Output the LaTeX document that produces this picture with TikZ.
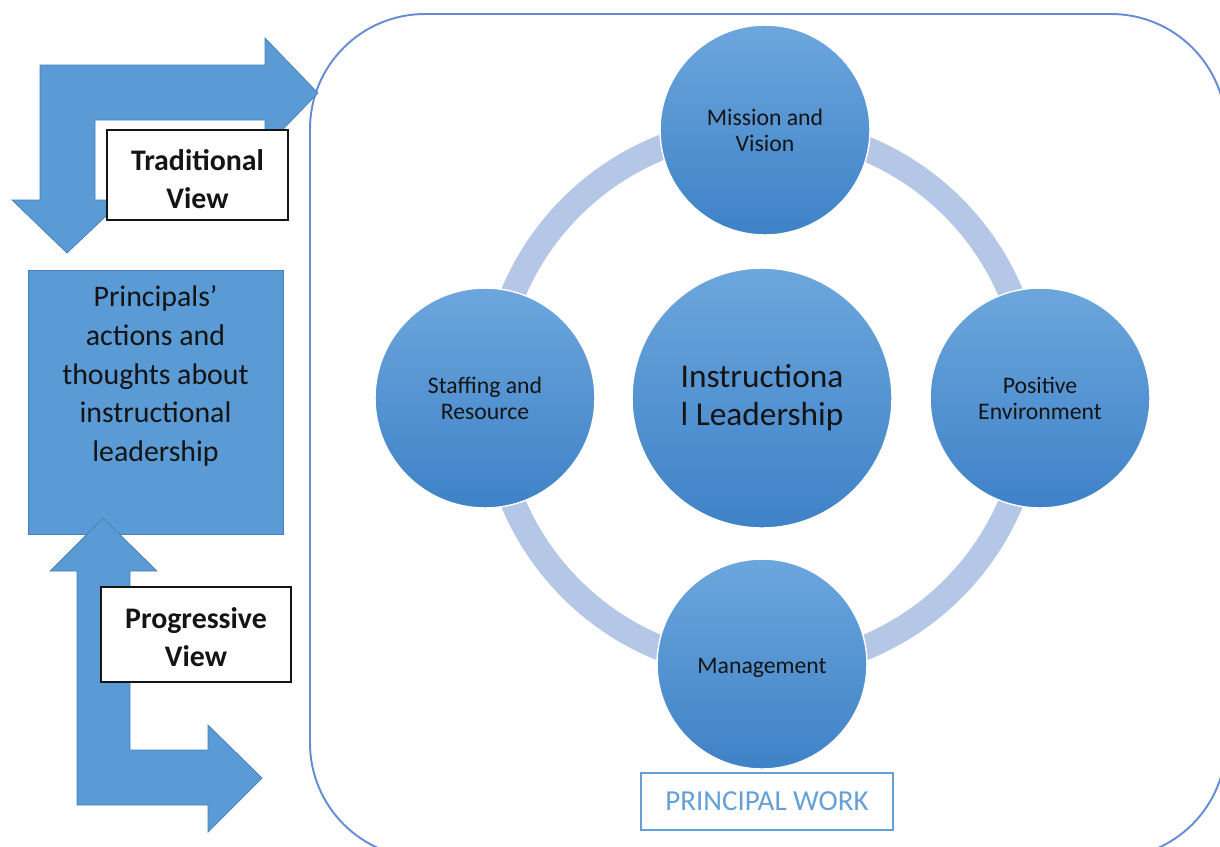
\documentclass[tikz,border=0pt]{standalone}
\usepackage{fontspec}
\setmainfont{Carlito}
\definecolor{arrowblue}{RGB}{91,155,213}
\definecolor{arrowedge}{RGB}{70,128,186}
\definecolor{ringblue}{RGB}{180,199,231}
\definecolor{frameblue}{RGB}{100,140,215}
\definecolor{circtop}{RGB}{108,166,221}
\definecolor{circbot}{RGB}{62,130,199}
\definecolor{pwblue}{RGB}{100,160,215}
\definecolor{ink}{RGB}{20,20,20}
\tikzset{
  bubble/.style={circle, draw=white, line width=0.8pt, top color=circtop, bottom color=circbot,
    align=center, text=ink, inner sep=0pt},
  smalltext/.style={font=\fontsize{13.5}{14.8}\selectfont},
  viewbox/.style={draw=ink, fill=white, line width=0.8pt, align=center, text=ink,
    font=\fontsize{17}{21.6}\selectfont\bfseries, inner sep=0pt},
  bigarrow/.style={fill=arrowblue, draw=arrowedge, line width=0.4pt},
}
\begin{document}
\begin{tikzpicture}[x=0.02cm, y=-0.02cm]
\useasboundingbox (0,0) rectangle (1220,846);
\clip (0,0) rectangle (1220,846);
% frame
\draw[frameblue, line width=1.1pt, rounded corners=2.3cm] (310,14) rectangle (1226,858);
% ring
\draw[ringblue, line width=0.5cm] (762,398) circle [radius=5.4cm];
% circles
\node[bubble, minimum size=5.2cm, font=\fontsize{19}{21.6}\selectfont] (il) at (762,398)
  {\raisebox{-0.1em}{\shortstack{}}Instructiona\\l Leadership};
\node[bubble, smalltext, minimum size=4.2cm] (mv) at (765,130) {Mission and\\Vision};
\node[bubble, smalltext, minimum size=4.4cm] (sr) at (485,398) {Staffing and\\Resource};
\node[bubble, smalltext, minimum size=4.4cm] (pe) at (1040,398) {Positive\\Environment};
\node[bubble, smalltext, minimum size=4.2cm] (mg) at (762,664) {};
\node[smalltext, text=ink, inner sep=0pt] (mgt) at (762,668) {Management};
% principal work label
\node[draw=pwblue, line width=0.8pt, text=pwblue, minimum width=5.04cm, minimum height=1.14cm,
  font=\fontsize{16.5}{19}\selectfont, inner sep=0pt] (pw) at (767,801.5) {PRINCIPAL WORK};
% left box
\node[fill=arrowblue, draw=arrowedge, line width=0.4pt, minimum width=5.1cm, minimum height=5.28cm,
  inner sep=0pt] (pa) at (155.5,402) {};
\node[align=center, text=ink, font=\fontsize{17}{22}\selectfont, inner sep=0pt] (pat) at (155.5,376)
  {Principals'\\actions and\\thoughts about\\instructional\\leadership};
% traditional arrow
\draw[bigarrow] (40,200) -- (40,65) -- (265,65) -- (265,38) -- (318,93) -- (265,148) -- (265,120)
  -- (95,120) -- (95,200) -- (123,200) -- (67,253) -- (12,200) -- cycle;
% progressive arrow
\draw[bigarrow] (77,805) -- (77,571) -- (50,571) -- (103,518) -- (157,571) -- (130,571) -- (130,750)
  -- (208,750) -- (208,725) -- (262,778) -- (208,832) -- (208,805) -- cycle;
% view labels
\node[viewbox, minimum width=3.62cm, minimum height=1.8cm] (tv) at (197.5,175) {};
\node[align=center, text=ink, font=\fontsize{17}{21.6}\selectfont\bfseries, inner sep=0pt] (tvt) at (197.5,179) {Traditional\\View};
\node[viewbox, minimum width=3.8cm, minimum height=1.9cm] (pv) at (196,634.5) {};
\node[align=center, text=ink, font=\fontsize{17}{21.6}\selectfont\bfseries, inner sep=0pt] (pvt) at (196,637) {Progressive\\View};
\end{tikzpicture}
\end{document}
